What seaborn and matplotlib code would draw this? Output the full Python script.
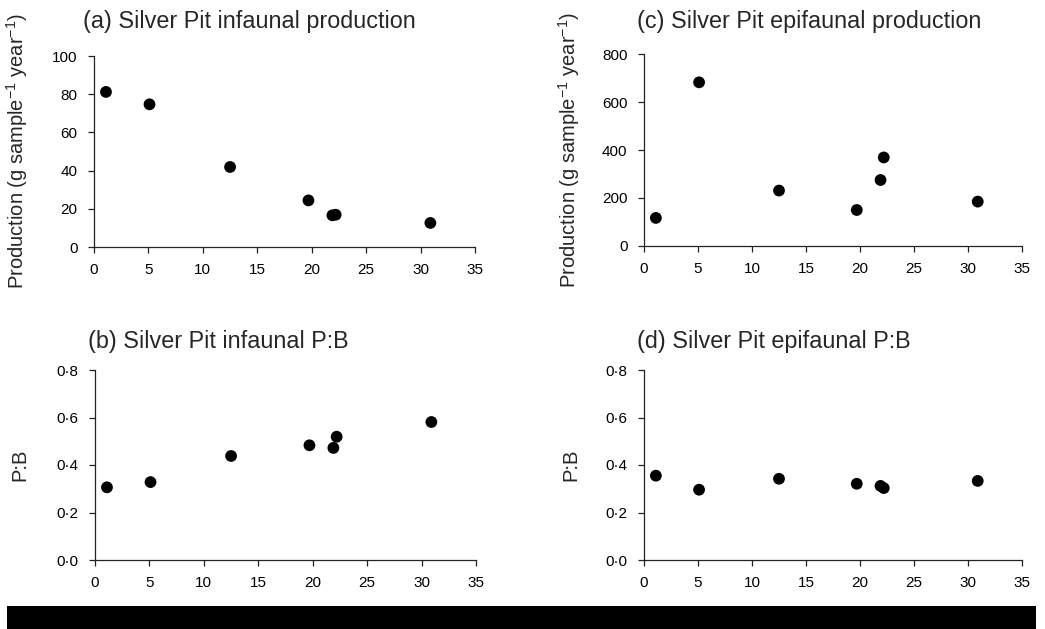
import matplotlib
matplotlib.use("Agg")
import matplotlib.pyplot as plt
import seaborn as sns
import pandas as pd
from matplotlib.ticker import FuncFormatter, MultipleLocator
from matplotlib.patches import Rectangle

# ---- data ----
depth = [1.1, 5.1, 12.5, 19.7, 21.9, 22.2, 30.9]
infaunal_production = [81.2, 74.7, 41.9, 24.4, 16.6, 16.9, 12.6]
epifaunal_production = [117, 682, 231, 150, 275, 369, 185]
infaunal_pb = [0.306, 0.328, 0.438, 0.483, 0.472, 0.519, 0.581]
epifaunal_pb = [0.355, 0.296, 0.342, 0.321, 0.312, 0.303, 0.333]

titles = ["(a) Silver Pit infaunal production",
          "(b) Silver Pit infaunal P:B",
          "(c) Silver Pit epifaunal production",
          "(d) Silver Pit epifaunal P:B"]
prod_label = "Production (g sample$^{-1}$ year$^{-1}$)"
pb_label = "P:B"

sns.set_style("ticks")
plt.rcParams["font.family"] = ["Liberation Sans", "DejaVu Sans"]
plt.rcParams["mathtext.fontset"] = "custom"
plt.rcParams["mathtext.rm"] = "Liberation Sans"
plt.rcParams["mathtext.it"] = "Liberation Sans:italic"
plt.rcParams["mathtext.bf"] = "Liberation Sans:bold"
plt.rcParams["mathtext.sf"] = "Liberation Sans"

fig = plt.figure(figsize=(10.45, 6.29), dpi=100)

W, H = 1045, 629
def add_axes(l, r, t, b):
    return fig.add_axes([l / W, 1 - b / H, (r - l) / W, (b - t) / H])

ax_a = add_axes(94, 475, 56, 247)
ax_c = add_axes(644, 1022, 54, 246)
ax_b = add_axes(95, 476, 370, 560)
ax_d = add_axes(644, 1022, 370, 560)

panels = [
    (ax_a, infaunal_production, titles[0], prod_label, (0, 100), 20, False, (83, 28), -0.168),
    (ax_b, infaunal_pb, titles[1], pb_label, (0, 0.8), 0.2, True, (88, 348), -0.173),
    (ax_c, epifaunal_production, titles[2], prod_label, (0, 800), 200, False, (637, 28), -0.164),
    (ax_d, epifaunal_pb, titles[3], pb_label, (0, 0.8), 0.2, True, (637, 348), -0.169),
]

dot_fmt = FuncFormatter(lambda v, p: f"{v:.1f}".replace(".", "\u00b7"))
int_fmt = FuncFormatter(lambda v, p: f"{v:.0f}")

for ax, yvals, title, ylabel, ylim, ystep, pb, (tx, ty), lx in panels:
    df = pd.DataFrame({"depth": depth, "value": yvals})
    sns.scatterplot(data=df, x="depth", y="value", ax=ax, color="black",
                    s=72, edgecolor="none", linewidth=0, clip_on=False)
    ax.set_xlim(0, 35)
    ax.set_ylim(*ylim)
    ax.xaxis.set_major_locator(MultipleLocator(5))
    ax.yaxis.set_major_locator(MultipleLocator(ystep))
    ax.xaxis.set_major_formatter(int_fmt)
    ax.yaxis.set_major_formatter(dot_fmt if pb else int_fmt)
    ax.set_xlabel("")
    ax.set_ylabel(ylabel, fontsize=14.5)
    ax.yaxis.set_label_coords(lx, 0.5)
    for s in ["top", "right"]:
        ax.spines[s].set_visible(False)
    for s in ["left", "bottom"]:
        ax.spines[s].set_linewidth(0.9)
        ax.spines[s].set_color("#222222")
    ax.tick_params(axis="both", direction="out", length=4.3, width=0.9,
                   color="#222222", labelsize=11, pad=7.5, labelcolor="black")
    fig.text(tx / W, 1 - ty / H, title, fontsize=16.8, ha="left", va="baseline")

# black bar along the bottom
fig.patches.append(Rectangle((7 / W, 0), (1036 - 7) / W, (629 - 606) / H,
                             transform=fig.transFigure, facecolor="black",
                             edgecolor="none"))

fig.savefig("out.png", dpi=100)
